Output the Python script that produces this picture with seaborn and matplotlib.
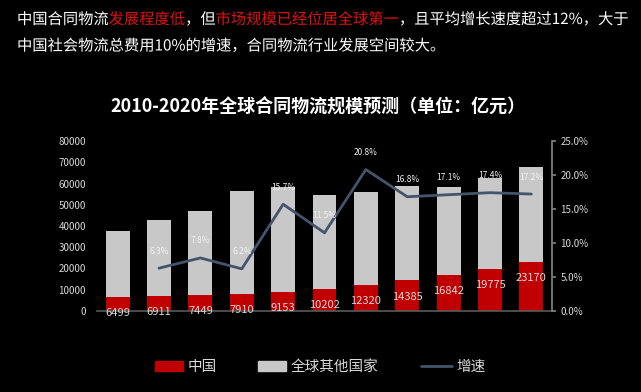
import matplotlib
matplotlib.use("Agg")
import matplotlib.pyplot as plt
import matplotlib.patheffects as pe
import seaborn as sns
import pandas as pd
import numpy as np
from matplotlib.patches import Patch
from matplotlib.lines import Line2D
from matplotlib.font_manager import FontProperties, fontManager, get_font

years = [str(y) for y in range(2010, 2021)]
china = [6499, 6911, 7449, 7910, 9153, 10202, 12320, 14385, 16842, 19775, 23170]
total = [37500, 42900, 47000, 56700, 58300, 54800, 56200, 58900, 58300, 62600, 68000]
growth = [np.nan, 6.3, 7.8, 6.2, 15.7, 11.5, 20.8, 16.8, 17.1, 17.4, 17.2]
left_ticks = [0, 10000, 20000, 30000, 40000, 50000, 60000, 70000, 80000]
right_ticks = [0, 5, 10, 15, 20, 25]
legend_labels = ["中国", "全球其他国家", "增速"]

sns.set_theme(style="dark")
FAMILY = ['Noto Sans CJK SC', 'DejaVu Sans']
plt.rcParams['font.family'] = FAMILY

RED = "#c00000"
GREY = "#c8c8c8"
LINE = "#44546a"
TXT = "#d9d9d9"
HRED = "#e01010"
DPI = 100

df = pd.DataFrame({"year": years, "china": china, "total": total, "growth": growth})

fig = plt.figure(figsize=(6.41, 3.92), dpi=DPI, facecolor="black")
ax = fig.add_axes([97/641, 1 - 311/392, (552 - 97)/641, (311 - 141)/392])
ax.set_facecolor("black")

sns.barplot(data=df, x="year", y="total", color=GREY, width=0.58, saturation=1,
            linewidth=0, edgecolor="none", ax=ax)
sns.barplot(data=df, x="year", y="china", color=RED, width=0.58, saturation=1,
            linewidth=0, edgecolor="none", ax=ax)
ax.set_ylim(0, 80000)
ax.set_xlim(-0.5, 10.5)
ax.set_yticks(left_ticks)
ax.set_yticklabels([str(v) for v in left_ticks], color=TXT, fontsize=7)
ax.set_xticks([])
ax.set_xlabel("")
ax.set_ylabel("")
ax.grid(False)
for s in ["top", "left", "right"]:
    ax.spines[s].set_visible(False)
ax.spines["bottom"].set_color("#595959")
ax.spines["bottom"].set_linewidth(1.2)
ax.tick_params(axis="y", length=0, pad=8)

for i, v in enumerate(china):
    ax.annotate(str(v), (i, v), xytext=(0, -8), textcoords="offset points",
                ha="center", va="top", color=TXT, fontsize=8)

ax2 = ax.twinx()
sns.lineplot(x=np.arange(len(years)), y=growth, color=LINE, linewidth=2, ax=ax2)
ax2.set_ylim(0, 25)
ax2.set_xlim(-0.5, 10.5)
ax2.set_yticks(right_ticks)
ax2.set_yticklabels([f"{v:.1f}%" for v in right_ticks], color=TXT, fontsize=7)
ax2.grid(False)
for s in ["top", "left", "bottom"]:
    ax2.spines[s].set_visible(False)
ax2.spines["right"].set_color("#7f7f7f")
ax2.tick_params(axis="y", length=3, color="#7f7f7f", pad=3)
for i, g in enumerate(growth):
    if not np.isnan(g):
        ax2.annotate(f"{g}%", (i, g), xytext=(0, 9), textcoords="offset points",
                     ha="center", va="bottom", color="#f2f2f2", fontsize=6)

fig.text(317.5/641, 1 - 107/392, "2010-2020年全球合同物流规模预测（单位：亿元）",
         ha="center", va="center", color="white", fontsize=13.0, fontweight="bold")

# header line 1 with red highlights: segments drawn as vector text at the
# font's unhinted advance positions (same metrics the path renderer uses)
segments = [("中国合同物流", "white"), ("发展程度低", HRED), ("，但", "white"),
            ("市场规模已经位居全球第一", HRED), ("，且平均增长速度超过12%，大于", "white")]
HX, HY1, HY2, HFS = 17.0, 1 - 19.5/392, 1 - 46/392, 11.0
full = "".join(s for s, _ in segments)
em = HFS * DPI / 72.0
adv = None
try:
    from matplotlib.ft2font import LOAD_NO_HINTING as NOHINT
except Exception:
    try:
        from matplotlib.ft2font import LoadFlags
        NOHINT = LoadFlags.NO_HINTING
    except Exception:
        NOHINT = None
try:
    fp = FontProperties(family=FAMILY, size=HFS)
    font = get_font(fontManager._find_fonts_by_props(fp))
    font.set_size(HFS, DPI)
    adv = []
    for c in full:
        g = font.load_char(ord(c), flags=NOHINT) if NOHINT is not None else font.load_char(ord(c))
        adv.append(g.linearHoriAdvance / 65536.0)
    if not all(0 < a < 2 * em for a in adv):
        adv = None
except Exception:
    adv = None
if adv is None:
    adv = [0.55 * em if ord(c) < 0x2000 else em for c in full]
pen = np.concatenate([[0.0], np.cumsum(adv)[:-1]])

vec = [pe.Normal()]
idx = 0
for txt, col in segments:
    fig.text((HX + pen[idx]) / 641, HY1, txt, ha="left", va="center", color=col,
             fontsize=HFS, path_effects=vec)
    idx += len(txt)
fig.text(HX / 641, HY2, "中国社会物流总费用10%的增速，合同物流行业发展空间较大。",
         ha="left", va="center", color="white", fontsize=HFS, path_effects=vec)

# legend: one entry per legend so each sits where it should
handles = [Patch(facecolor=RED, edgecolor=RED), Patch(facecolor=GREY, edgecolor=GREY),
           Line2D([0], [0], color=LINE, linewidth=2)]
starts = [155, 258, 421]
hlens = [1.92, 1.92, 2.1]
for h, lab, x0, hl in zip(handles, legend_labels, starts, hlens):
    fig.legend([h], [lab], loc="center left", bbox_to_anchor=(x0/641, 1 - 367/392),
               frameon=False, borderpad=0, borderaxespad=0, fontsize=10.5,
               labelcolor=TXT, handlelength=hl, handleheight=0.67, handletextpad=0.33)

fig.savefig("out.png", dpi=DPI, facecolor="black")
